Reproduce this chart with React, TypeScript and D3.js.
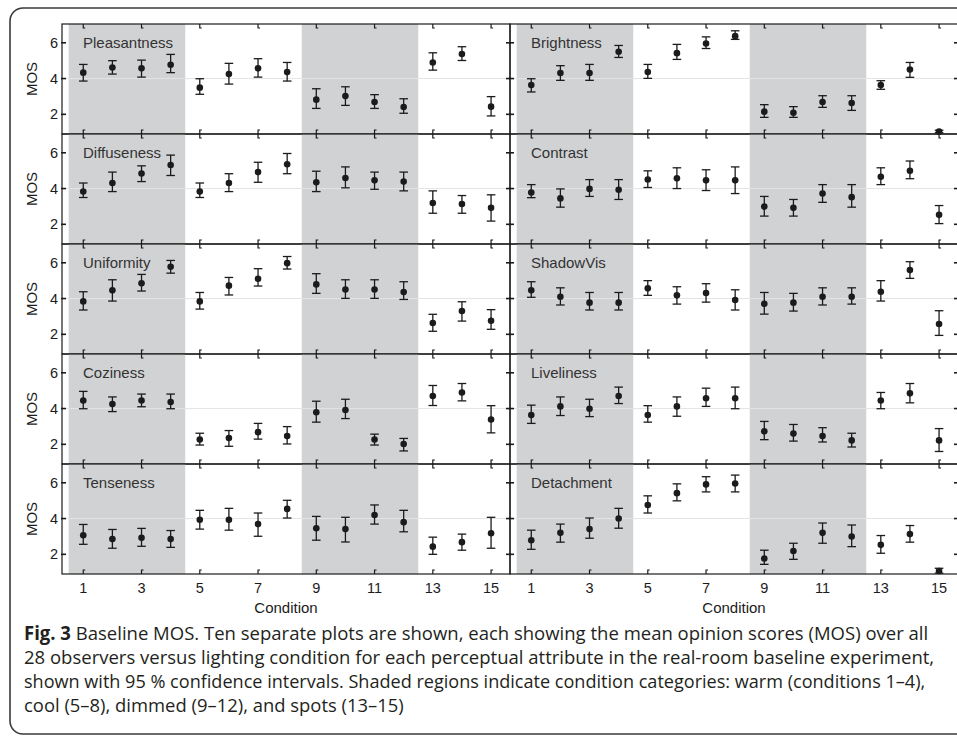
import React from 'react';
import * as d3 from 'd3';

// conditions along x, tick labels and category shading
const conditions = [1, 2, 3, 4, 5, 6, 7, 8, 9, 10, 11, 12, 13, 14, 15];
const xTicks = [1, 3, 5, 7, 9, 11, 13, 15];
const yTicks = [2, 4, 6];
const shadedCategories = [
  [1, 4],
  [9, 12],
];

// MOS means and 95% CI limits
const pleasantnessMean = [4.33, 4.62, 4.57, 4.77, 3.49, 4.25, 4.57, 4.36, 2.82, 3.02, 2.69, 2.41, 4.9, 5.37, 2.43];
const pleasantnessLo = [3.86, 4.25, 4.08, 4.33, 3.12, 3.69, 4.08, 3.86, 2.33, 2.5, 2.33, 2.06, 4.47, 5.01, 1.91];
const pleasantnessHi = [4.79, 5.0, 5.03, 5.35, 3.99, 4.85, 5.11, 4.9, 3.43, 3.54, 3.1, 2.87, 5.44, 5.78, 2.99];

const brightnessMean = [3.64, 4.31, 4.31, 5.5, 4.36, 5.42, 5.96, 6.37, 2.15, 2.09, 2.69, 2.63, 3.64, 4.51, 1.04];
const brightnessLo = [3.25, 3.9, 3.9, 5.18, 4.01, 5.07, 5.68, 6.19, 1.83, 1.83, 2.39, 2.22, 3.4, 4.07, 0.97];
const brightnessHi = [3.99, 4.72, 4.79, 5.85, 4.79, 5.91, 6.33, 6.67, 2.54, 2.43, 3.04, 3.04, 3.88, 4.9, 1.11];

const diffusenessMean = [3.83, 4.31, 4.84, 5.32, 3.83, 4.31, 4.92, 5.36, 4.35, 4.59, 4.46, 4.39, 3.19, 3.14, 2.92];
const diffusenessLo = [3.5, 3.83, 4.39, 4.73, 3.5, 3.83, 4.35, 4.83, 3.83, 4.04, 3.96, 3.87, 2.62, 2.62, 2.18];
const diffusenessHi = [4.31, 4.92, 5.27, 5.87, 4.31, 4.83, 5.47, 5.96, 4.97, 5.21, 4.92, 4.92, 3.87, 3.61, 3.65];

const contrastMean = [3.78, 3.45, 3.98, 3.93, 4.51, 4.57, 4.46, 4.46, 2.99, 2.92, 3.72, 3.52, 4.66, 4.99, 2.53];
const contrastLo = [3.49, 2.96, 3.56, 3.39, 4.06, 4.0, 3.89, 3.72, 2.46, 2.46, 3.23, 2.96, 4.22, 4.55, 2.04];
const contrastHi = [4.22, 3.98, 4.5, 4.5, 4.99, 5.16, 5.05, 5.21, 3.56, 3.39, 4.22, 4.22, 5.16, 5.54, 3.05];

const uniformityMean = [3.84, 4.46, 4.85, 5.78, 3.84, 4.72, 5.11, 5.98, 4.79, 4.51, 4.51, 4.36, 2.63, 3.3, 2.76];
const uniformityLo = [3.36, 3.86, 4.42, 5.42, 3.41, 4.2, 4.7, 5.65, 4.29, 4.01, 4.01, 3.95, 2.17, 2.74, 2.28];
const uniformityHi = [4.38, 5.05, 5.35, 6.13, 4.34, 5.18, 5.67, 6.35, 5.39, 5.05, 5.05, 4.94, 3.12, 3.82, 3.38];

const shadowVisMean = [4.46, 4.1, 3.77, 3.77, 4.57, 4.18, 4.31, 3.92, 3.71, 3.77, 4.1, 4.1, 4.38, 5.59, 2.58];
const shadowVisLo = [4.07, 3.64, 3.36, 3.36, 4.18, 3.69, 3.8, 3.36, 3.13, 3.3, 3.64, 3.69, 3.86, 5.13, 1.94];
const shadowVisHi = [4.94, 4.6, 4.34, 4.34, 5.0, 4.66, 4.83, 4.49, 4.34, 4.29, 4.6, 4.6, 5.0, 6.06, 3.32];

const cozinessMean = [4.45, 4.25, 4.45, 4.37, 2.27, 2.35, 2.68, 2.46, 3.79, 3.92, 2.27, 2.02, 4.7, 4.9, 3.39];
const cozinessLo = [3.99, 3.83, 4.1, 3.99, 1.96, 1.89, 2.29, 2.02, 3.24, 3.44, 1.96, 1.63, 4.17, 4.43, 2.64];
const cozinessHi = [4.96, 4.65, 4.81, 4.81, 2.62, 2.77, 3.17, 2.99, 4.41, 4.52, 2.57, 2.33, 5.29, 5.4, 4.16];

const livelinessMean = [3.64, 4.12, 3.99, 4.7, 3.64, 4.12, 4.58, 4.58, 2.73, 2.6, 2.46, 2.22, 4.45, 4.85, 2.22];
const livelinessLo = [3.17, 3.61, 3.55, 4.28, 3.24, 3.57, 4.12, 3.99, 2.26, 2.18, 2.13, 1.85, 3.99, 4.32, 1.6];
const livelinessHi = [4.19, 4.65, 4.52, 5.2, 4.16, 4.65, 5.14, 5.2, 3.28, 3.11, 2.93, 2.62, 4.9, 5.4, 2.88];

const tensenessMean = [3.07, 2.85, 2.92, 2.85, 3.93, 3.93, 3.69, 4.54, 3.46, 3.41, 4.2, 3.8, 2.43, 2.68, 3.18];
const tensenessLo = [2.56, 2.34, 2.45, 2.39, 3.41, 3.35, 3.01, 4.03, 2.79, 2.69, 3.69, 3.26, 2.0, 2.23, 2.34];
const tensenessHi = [3.67, 3.39, 3.45, 3.33, 4.46, 4.57, 4.31, 5.02, 4.12, 4.07, 4.76, 4.46, 2.96, 3.13, 4.07];

const detachmentMean = [2.79, 3.2, 3.41, 4.0, 4.76, 5.42, 5.91, 5.96, 1.77, 2.19, 3.2, 3.0, 2.53, 3.13, 1.07];
const detachmentLo = [2.28, 2.68, 2.9, 3.46, 4.31, 4.99, 5.49, 5.49, 1.44, 1.72, 2.62, 2.43, 2.06, 2.68, 0.95];
const detachmentHi = [3.35, 3.69, 4.03, 4.57, 5.27, 5.94, 6.34, 6.43, 2.23, 2.62, 3.75, 3.64, 3.05, 3.61, 1.22];

const leftColumn = [
  { name: 'Pleasantness', mean: pleasantnessMean, lo: pleasantnessLo, hi: pleasantnessHi },
  { name: 'Diffuseness', mean: diffusenessMean, lo: diffusenessLo, hi: diffusenessHi },
  { name: 'Uniformity', mean: uniformityMean, lo: uniformityLo, hi: uniformityHi },
  { name: 'Coziness', mean: cozinessMean, lo: cozinessLo, hi: cozinessHi },
  { name: 'Tenseness', mean: tensenessMean, lo: tensenessLo, hi: tensenessHi },
];
const rightColumn = [
  { name: 'Brightness', mean: brightnessMean, lo: brightnessLo, hi: brightnessHi },
  { name: 'Contrast', mean: contrastMean, lo: contrastLo, hi: contrastHi },
  { name: 'ShadowVis', mean: shadowVisMean, lo: shadowVisLo, hi: shadowVisHi },
  { name: 'Liveliness', mean: livelinessMean, lo: livelinessLo, hi: livelinessHi },
  { name: 'Detachment', mean: detachmentMean, lo: detachmentLo, hi: detachmentHi },
];

const captionLines = [
  ' Baseline MOS. Ten separate plots are shown, each showing the mean opinion scores (MOS) over all',
  '28 observers versus lighting condition for each perceptual attribute in the real-room baseline experiment,',
  'shown with 95 % confidence intervals. Shaded regions indicate condition categories: warm (conditions 1–4),',
  'cool (5–8), dimmed (9–12), and spots (13–15)',
];
// horizontal squeeze per caption line, to mimic the condensed caption face
const captionSqueeze = [0.975, 0.975, 0.952, 0.97];

const W = 957;
const H = 737;
const colLeft = [62, 510];
const panelW = 448;
const top0 = 24;
const rowH = 110;
const ink = '#1b1b1b';
const font = 'Liberation Sans, Arial, Helvetica, sans-serif';
const captionFont = 'Open Sans, Noto Sans, sans-serif';

type Series = { name: string; mean: number[]; lo: number[]; hi: number[] };

function Panel({ s, x0, y0, showY, showX }: { s: Series; x0: number; y0: number; showY: boolean; showX: boolean }) {
  const x = d3.scaleLinear().domain([0.27, 15.65]).range([x0, x0 + panelW]);
  const y = d3.scaleLinear().domain([0.9, 7.05]).range([y0 + rowH, y0]);
  const x1 = x0 + panelW;
  const y1 = y0 + rowH;
  return (
    <g>
      {shadedCategories.map(([a, b]) => {
        const left = Math.max(x(a - 0.5), x0);
        const right = Math.min(x(b + 0.5), x1);
        return <rect key={a} x={left} y={y0} width={right - left} height={rowH} fill="#d1d2d4" />;
      })}
      <line x1={x0} x2={x1} y1={y(4)} y2={y(4)} stroke="#e4e4e4" strokeWidth={1} />
      <rect x={x0} y={y0} width={panelW} height={rowH} fill="none" stroke={ink} strokeWidth={1.2} />
      {xTicks.map((t) => (
        <g key={t} stroke={ink} strokeWidth={1.2} fill="none">
          <path d={`M${x(t)},${y0} v4 h2`} />
          <path d={`M${x(t)},${y1} v-4 h2`} />
        </g>
      ))}
      {yTicks.map((t) => (
        <g key={t} stroke={ink} strokeWidth={1.6}>
          <line x1={x0 - 1} x2={x0 + 4} y1={y(t)} y2={y(t)} />
          <line x1={x1 - 4} x2={x1 + 1} y1={y(t)} y2={y(t)} />
        </g>
      ))}
      {showY &&
        yTicks.map((t) => (
          <text key={t} x={x0 - 4} y={y(t) + 5} textAnchor="end" fontSize={14.5} fill={ink} fontFamily={font}>
            {t}
          </text>
        ))}
      {showY && (
        <text
          transform={`translate(${x0 - 25},${y0 + rowH / 2}) rotate(-90)`}
          textAnchor="middle"
          fontSize={15}
          fill={ink}
          fontFamily={font}
        >
          MOS
        </text>
      )}
      {showX &&
        xTicks.map((t) => (
          <text key={t} x={x(t)} y={y1 + 19} textAnchor="middle" fontSize={14.5} fill={ink} fontFamily={font}>
            {t}
          </text>
        ))}
      {showX && (
        <text x={x0 + panelW / 2} y={y1 + 39} textAnchor="middle" fontSize={15} fill={ink} fontFamily={font}>
          Condition
        </text>
      )}
      <text x={x0 + 21} y={y0 + 24} fontSize={15} fill="#333" fontFamily={font}>
        {s.name}
      </text>
      {conditions.map((c, i) => {
        const cx = x(c);
        return (
          <g key={c} stroke={ink} strokeWidth={1.3}>
            <line x1={cx} x2={cx} y1={y(s.lo[i])} y2={y(s.hi[i])} />
            <line x1={cx - 4.3} x2={cx + 4.3} y1={y(s.lo[i])} y2={y(s.lo[i])} />
            <line x1={cx - 4.3} x2={cx + 4.3} y1={y(s.hi[i])} y2={y(s.hi[i])} />
            <circle cx={cx} cy={y(s.mean[i])} r={3.3} fill={ink} stroke="none" />
          </g>
        );
      })}
    </g>
  );
}

export default function App() {
  return (
    <div style={{ position: 'absolute', left: 0, top: 0 }}>
      <svg width={W} height={H} style={{ display: 'block', background: '#fff' }}>
        <rect x={10} y={8} width={980} height={726} rx={13} fill="none" stroke="#3a3a3a" strokeWidth={1.6} />
        {[leftColumn, rightColumn].map((col, ci) =>
          col.map((s, ri) => (
            <Panel
              key={s.name}
              s={s}
              x0={colLeft[ci]}
              y0={top0 + ri * rowH}
              showY={ci === 0}
              showX={ri === col.length - 1}
            />
          ))
        )}
        {captionLines.map((line, i) => (
          <g key={i} transform={`translate(24,${640 + i * 24}) scale(${captionSqueeze[i]},1)`}>
            <text x={0} y={0} fontSize={19} fill="#231f20" fontFamily={captionFont}>
              {i === 0 && <tspan fontWeight="bold">Fig. 3</tspan>}
              {line}
            </text>
          </g>
        ))}
      </svg>
    </div>
  );
}
